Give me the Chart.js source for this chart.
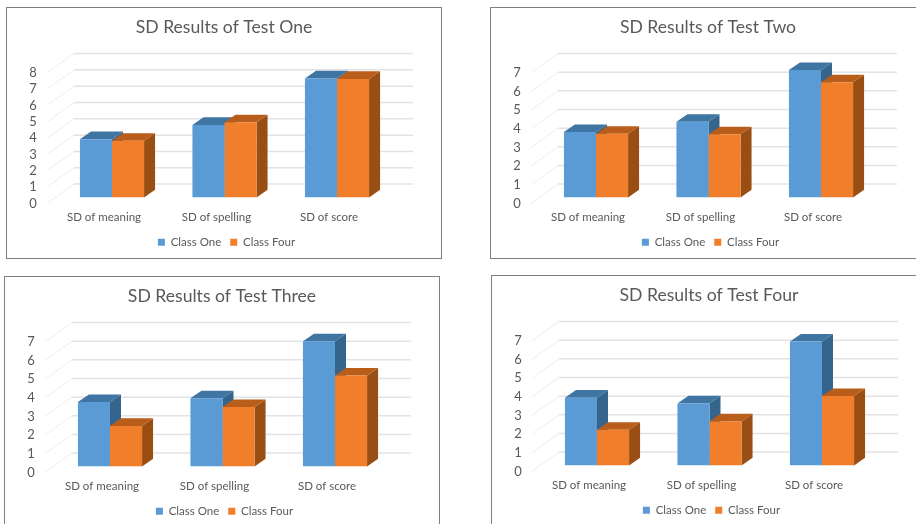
<!DOCTYPE html>
<html>
<head>
<meta charset="utf-8">
<title>SD Results</title>
<script src="https://cdn.jsdelivr.net/npm/chart.js@4/dist/chart.umd.min.js"></script>
<style>
  html, body { margin: 0; padding: 0; width: 916px; height: 524px; overflow: hidden; background: #fff; }
  .panel { position: absolute; width: 436px; height: 252px; outline: 1px solid #7f7f7f; outline-offset: -1px; }
  .panel canvas { display: block; }
</style>
</head>
<body>
<div class="panel" style="left:6px;top:7px"><canvas id="test-one" width="436" height="252"></canvas></div>
<div class="panel" style="left:490px;top:7px"><canvas id="test-two" width="436" height="252"></canvas></div>
<div class="panel" style="left:4px;top:276px"><canvas id="test-three" width="436" height="252"></canvas></div>
<div class="panel" style="left:491px;top:275px"><canvas id="test-four" width="436" height="252"></canvas></div>
<script>
const categories = ['SD of meaning', 'SD of spelling', 'SD of score'];
const seriesNames = ['Class One', 'Class Four'];

const testOneClassOne = [3.57, 4.44, 7.29];
const testOneClassFour = [3.47, 4.60, 7.26];
const testTwoClassOne = [3.50, 4.05, 6.83];
const testTwoClassFour = [3.41, 3.38, 6.17];
const testThreeClassOne = [3.45, 3.65, 6.71];
const testThreeClassFour = [2.17, 3.18, 4.87];
const testFourClassOne = [3.63, 3.32, 6.64];
const testFourClassFour = [1.91, 2.36, 3.72];

const textColor = '#595959';
const fontFamily = 'Lato, "Open Sans", sans-serif';
const frontColors = ['#5a9bd6', '#f07e2a'];
const topColors = ['#3e75a3', '#b95d1a'];
const sideColors = ['#35658d', '#994f14'];

// Chart.js has no 3D bars, so walls and bar depth are added around the normal bars
const depthPlugin = {
  id: 'depth',
  afterLayout(chart) {
    // Legend sits a little right of the title in the original
    chart.legend.left += 2.5;
    chart.legend.right += 2.5;
  },
  beforeDatasetsDraw(chart) {
    const ctx = chart.ctx;
    const area = chart.chartArea;
    const yScale = chart.scales.y;
    const depthX = 11;
    const depthY = 7.6;

    // Back wall and side wall gridlines
    ctx.save();
    yScale.ticks.forEach(tick => {
      const y = yScale.getPixelForValue(tick.value);
      ctx.lineWidth = 1;
      ctx.strokeStyle = '#ececec';
      ctx.beginPath();
      ctx.moveTo(area.left - 8.75, y + 6);
      ctx.lineTo(area.left + 18.25, y - 13.3);
      ctx.stroke();
      ctx.lineWidth = 1.5;
      ctx.strokeStyle = '#e3e3e3';
      ctx.beginPath();
      ctx.moveTo(area.left + 18.25, y - 13.3);
      ctx.lineTo(area.right + 19.75, y - 13.3);
      ctx.stroke();
    });

    // Top and side face of every bar
    chart.data.datasets.forEach((dataset, i) => {
      chart.getDatasetMeta(i).data.forEach(bar => {
        const left = bar.x - bar.width / 2;
        const right = bar.x + bar.width / 2;
        ctx.fillStyle = sideColors[i];
        ctx.beginPath();
        ctx.moveTo(right, bar.y);
        ctx.lineTo(right + depthX, bar.y - depthY);
        ctx.lineTo(right + depthX, bar.base - depthY);
        ctx.lineTo(right, bar.base);
        ctx.closePath();
        ctx.fill();
        ctx.fillStyle = topColors[i];
        ctx.beginPath();
        ctx.moveTo(left, bar.y);
        ctx.lineTo(left + depthX, bar.y - depthY);
        ctx.lineTo(right + depthX, bar.y - depthY);
        ctx.lineTo(right, bar.y);
        ctx.closePath();
        ctx.fill();
      });
    });
    ctx.restore();
  }
};

function drawChart(canvasId, title, classOne, classFour, maxValue) {
  new Chart(document.getElementById(canvasId), {
    type: 'bar',
    data: {
      labels: categories,
      datasets: [
        { label: seriesNames[0], data: classOne, backgroundColor: frontColors[0] },
        { label: seriesNames[1], data: classFour, backgroundColor: frontColors[1] }
      ]
    },
    plugins: [depthPlugin],
    options: {
      responsive: false,
      animation: false,
      layout: { padding: { left: 0, right: 0, top: 0, bottom: 1.1 } },
      datasets: { bar: { categoryPercentage: 0.57, barPercentage: 1 } },
      plugins: {
        tooltip: { enabled: false },
        title: {
          display: true,
          text: title,
          color: textColor,
          font: { family: fontFamily, size: 17.6, weight: 'normal', lineHeight: 1.2 },
          padding: { top: 10, bottom: 28.7 }
        },
        legend: {
          position: 'bottom',
          labels: {
            color: textColor,
            font: { family: fontFamily, size: 11.5 },
            boxWidth: 7,
            boxHeight: 7,
            padding: 9
          }
        }
      },
      scales: {
        x: {
          grid: { display: false, drawTicks: false },
          border: { display: false },
          afterFit(scale) { scale.height = 30; },
          ticks: {
            color: textColor,
            font: { family: fontFamily, size: 11.5 },
            padding: 13,
            labelOffset: -8,
            maxRotation: 0
          }
        },
        y: {
          min: 0,
          max: maxValue,
          grid: { display: false, drawTicks: false },
          border: { display: false },
          afterFit(scale) { scale.width = 49.75; },
          ticks: {
            stepSize: 1,
            autoSkip: false,
            color: textColor,
            font: { family: fontFamily, size: 13 },
            padding: 19,
            labelOffset: 6
          }
        },
        // Empty axis, only keeps the plot clear of the right edge
        rightGap: {
          position: 'right',
          grid: { display: false, drawTicks: false },
          border: { display: false },
          ticks: { display: false },
          afterFit(scale) { scale.width = 48.75; }
        }
      }
    }
  });
}

drawChart('test-one', 'SD Results of Test One', testOneClassOne, testOneClassFour, 8);
drawChart('test-two', 'SD Results of Test Two', testTwoClassOne, testTwoClassFour, 7);
drawChart('test-three', 'SD Results of Test Three', testThreeClassOne, testThreeClassFour, 7);
drawChart('test-four', 'SD Results of Test Four', testFourClassOne, testFourClassFour, 7);
</script>
</body>
</html>
